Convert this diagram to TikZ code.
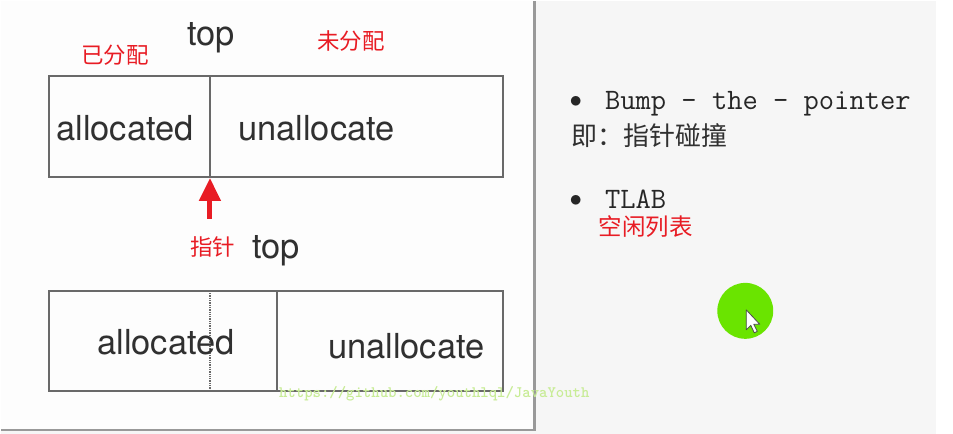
\documentclass[tikz,border=0pt]{standalone}
\usepackage{fontspec}
\setmainfont{TeX Gyre Heros}
\newfontfamily\cjk{Noto Sans CJK SC}
\usetikzlibrary{arrows.meta}
\definecolor{slidegray}{RGB}{246,246,246}
\definecolor{panelwhite}{RGB}{253,253,253}
\definecolor{txtgray}{RGB}{48,48,48}
\definecolor{markred}{RGB}{232,28,36}
\definecolor{boxgray}{RGB}{105,105,105}
\definecolor{wmgreen}{RGB}{200,236,150}
\definecolor{dotgreen}{RGB}{106,228,0}
\newcommand{\dotmark}{\raisebox{2pt}{\fontsize{26}{30}\selectfont$\bullet$}}

\begin{document}
\begin{tikzpicture}[x=1pt,y=-1pt,
    heap/.style={draw=boxgray, line width=2pt},
    word/.style={inner sep=0pt, anchor=base west, text=txtgray, font=\fontsize{34.5}{40}\selectfont},
    note/.style={inner sep=0pt, text=markred, font=\cjk\fontsize{22.5}{26}\selectfont},
    bullet/.style={inner sep=0pt, anchor=base west, text=black!85, font=\ttfamily\fontsize{29.7}{34}\selectfont},
    pointer/.style={markred, line width=5pt, -{Triangle[width=21pt,length=23pt]}}]
        % background
        \path[fill=slidegray](0,0)rectangle(953,433);
        \path[fill=panelwhite](0,0)rectangle(533,428);
        \path[fill=white](936,0)rectangle(953,433);
        \path[draw=gray!80, line width=2.5pt](534,0)--(534,429.5)--(0,429.5);
        % first heap
        \coordinate (top1) at (209,75);
        \coordinate (ptrhead) at (209,177);
        \coordinate (ptrtail) at (209,218);
        \path[heap](48,75)rectangle(502,176);
        \path[heap](top1)--(209,176);
        \node[word] (alloc1) at (55,139) {allocated};
        \node[word] (free1) at (237,139) {unallocate};
        \node[word, anchor=base] (toplabel1) at (210,44) {top};
        \node[note] (used) at (114,54) {已分配};
        \node[note] (unused) at (350,40) {未分配};
        % pointer
        \path[draw, pointer](ptrtail)--(ptrhead);
        \node[note] (ptrlabel) at (212,246) {指针};
        \node[word, anchor=base] (toplabel2) at (275,258) {top};
        % second heap
        \path[heap](48,290)rectangle(502,390);
        \path[draw=boxgray, line width=1.3pt, densely dotted](209,290)--(209,390);
        \path[heap](276,290)--(276,390);
        \node[word] (alloc2) at (96,354) {allocated};
        \node[word] (free2) at (327,358) {unallocate};
        \node[inner sep=0pt, anchor=base west, text=wmgreen, font=\ttfamily\bfseries\fontsize{16}{18}\selectfont] (mark) at (278,397) {https://github.com/youthlql/JavaYouth};
        % notes
        \node[bullet] (bump) at (569,108) {\dotmark\hspace{23pt}Bump - the - pointer};
        \node[inner sep=0pt, anchor=west, text=txtgray, font=\cjk\fontsize{26}{30}\selectfont] (bumpcn) at (571,134) {即：指针碰撞};
        \node[bullet] (tlab) at (569,208) {\dotmark\hspace{23pt}TLAB};
        \node[note, anchor=west, font=\cjk\fontsize{23.5}{28}\selectfont] (freelist) at (598,226) {空闲列表};
        % cursor
        \path[fill=dotgreen](745,310)circle(28);
        \path[draw=black!70, fill=white, line width=0.8pt, line join=round](746,309)--(746,329)--(750.5,324.5)--(754,332)--(757,330.5)--(753.5,323.5)--(759.5,323.5)--cycle;
\end{tikzpicture}
\end{document}
